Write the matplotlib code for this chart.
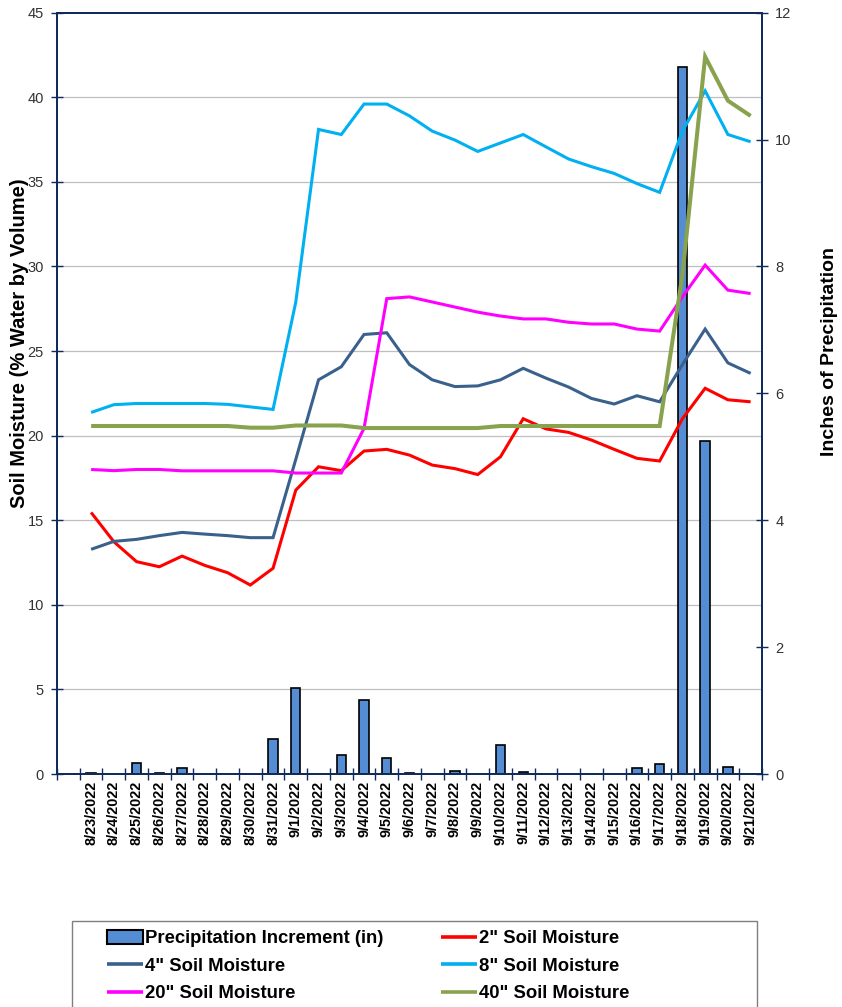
import numpy as np
import matplotlib
matplotlib.use("Agg")
import matplotlib.pyplot as plt
from matplotlib.lines import Line2D
from matplotlib.patches import Rectangle, Patch
from matplotlib.transforms import blended_transform_factory

# ---------------- data ----------------
dates = ["8/23/2022", "8/24/2022", "8/25/2022", "8/26/2022", "8/27/2022", "8/28/2022",
         "8/29/2022", "8/30/2022", "8/31/2022", "9/1/2022", "9/2/2022", "9/3/2022",
         "9/4/2022", "9/5/2022", "9/6/2022", "9/7/2022", "9/8/2022", "9/9/2022",
         "9/10/2022", "9/11/2022", "9/12/2022", "9/13/2022", "9/14/2022", "9/15/2022",
         "9/16/2022", "9/17/2022", "9/18/2022", "9/19/2022", "9/20/2022", "9/21/2022"]

precip_in = [0.01, 0.0, 0.17, 0.01, 0.10, 0.0, 0.0, 0.0, 0.55, 1.35,
             0.0, 0.30, 1.17, 0.26, 0.01, 0.0, 0.04, 0.0, 0.46, 0.03,
             0.0, 0.0, 0.0, 0.0, 0.10, 0.15, 11.14, 5.25, 0.11, 0.0]

soil_2in = [15.46, 13.73, 12.55, 12.25, 12.88, 12.33, 11.90, 11.17, 12.16, 16.78,
            18.16, 17.93, 19.09, 19.19, 18.85, 18.26, 18.05, 17.70, 18.75, 21.00,
            20.40, 20.19, 19.74, 19.19, 18.66, 18.50, 21.00, 22.80, 22.12, 22.00]

soil_4in = [13.28, 13.75, 13.87, 14.09, 14.28, 14.18, 14.09, 13.97, 13.97, 18.60,
            23.30, 24.07, 25.98, 26.08, 24.20, 23.30, 22.90, 22.94, 23.30, 23.98,
            23.40, 22.87, 22.20, 21.87, 22.36, 22.00, 24.20, 26.30, 24.30, 23.68]

soil_8in = [21.37, 21.83, 21.90, 21.90, 21.90, 21.90, 21.85, 21.70, 21.55, 27.90,
            38.10, 37.80, 39.60, 39.60, 38.90, 38.00, 37.47, 36.80, 37.30, 37.80,
            37.07, 36.35, 35.90, 35.50, 34.90, 34.38, 38.00, 40.38, 37.80, 37.37]

soil_20in = [18.00, 17.93, 18.00, 18.00, 17.92, 17.92, 17.92, 17.92, 17.92, 17.79,
             17.79, 17.79, 20.43, 28.10, 28.20, 27.90, 27.60, 27.30, 27.07, 26.90,
             26.90, 26.70, 26.60, 26.60, 26.30, 26.18, 28.20, 30.08, 28.60, 28.40]

soil_40in = [20.57, 20.57, 20.57, 20.57, 20.57, 20.57, 20.57, 20.47, 20.47, 20.60,
             20.60, 20.60, 20.45, 20.45, 20.45, 20.45, 20.45, 20.45, 20.57, 20.57,
             20.57, 20.57, 20.57, 20.57, 20.57, 20.57, 29.50, 42.40, 39.80, 38.90]

soil_ticks = [0, 5, 10, 15, 20, 25, 30, 35, 40, 45]
precip_ticks = [0, 2, 4, 6, 8, 10, 12]

series = [
    ('2" Soil Moisture', soil_2in, "#FF0000", 2.2),
    ('4" Soil Moisture', soil_4in, "#3A608C", 2.2),
    ('8" Soil Moisture', soil_8in, "#00B0F0", 2.2),
    ('20" Soil Moisture', soil_20in, "#FF00FF", 2.2),
    ('40" Soil Moisture', soil_40in, "#88A24E", 2.9),
]

# ---------------- style ----------------
plt.rcParams["font.family"] = ["Liberation Sans", "DejaVu Sans"]
navy = "#102A5C"
tick_col = "#333333"

fig = plt.figure(figsize=(8.42, 10.07), dpi=100)
ax = fig.add_axes([57 / 842, 1 - 774 / 1007, 705 / 842, (774 - 12.7) / 1007])
ax2 = ax.twinx()

# lines axis above bars axis
ax.set_zorder(ax2.get_zorder() + 1)
ax.patch.set_visible(False)

# Excel category axis reserves an empty leading category
x = np.arange(1, len(dates) + 1)

ax2.bar(x, precip_in, width=0.41, color="#548DD4", edgecolor="black",
        linewidth=1.2, zorder=2)

lines = {}
for name, vals, col, lw in series:
    ln, = ax.plot(x, vals, color=col, lw=lw, label=name, solid_joinstyle="miter",
                  solid_capstyle="butt")
    lines[name] = ln

ax.set_xlim(-0.5, len(dates) + 0.5)
ax.set_ylim(soil_ticks[0], soil_ticks[-1])
ax2.set_ylim(precip_ticks[0], precip_ticks[-1])

# gridlines (behind bars) at left-axis ticks
trans = blended_transform_factory(ax2.transAxes, ax.transData)
for g in soil_ticks[1:-1]:
    ax2.add_line(Line2D([0, 1], [g, g], transform=trans, color="#BFBFBF", lw=0.9, zorder=0.5))

# x ticks: boundaries major, labels at centers minor
ax.set_xticks(np.arange(-0.5, len(dates) + 1, 1))
ax.set_xticklabels([])
ax.set_xticks(x, minor=True)
ax.set_xticklabels(dates, minor=True, rotation=90, fontsize=10.4, fontweight="bold",
                   color="black")
ax.tick_params(axis="x", which="major", direction="inout", length=9, width=1, color=navy)
ax.tick_params(axis="x", which="minor", length=0, pad=5)
for lab in ax.get_xticklabels(minor=True):
    lab.set_verticalalignment("top")

ax.set_yticks(soil_ticks)
ax.tick_params(axis="y", direction="inout", length=9, width=1, color=navy,
               labelsize=10.5, labelcolor=tick_col, pad=5)
ax2.set_yticks(precip_ticks)
ax2.tick_params(axis="y", direction="inout", length=9, width=1, color=navy,
                labelsize=10.5, labelcolor=tick_col, pad=5)

for a in (ax, ax2):
    for sp in a.spines.values():
        sp.set_color(navy)
        sp.set_linewidth(1.3)

ax.set_ylabel("Soil Moisture (% Water by Volume)", fontsize=14.5, fontweight="bold")
ax.yaxis.set_label_coords((29 - 57) / 705, (774 - 343) / 761.3)
ax2.set_ylabel("Inches of Precipitation", fontsize=14, fontweight="bold", rotation=90)
ax2.yaxis.set_label_coords((821 - 57) / 705, (774 - 351) / 761.3)

# legend frame
fig.patches.append(Rectangle((72 / 842, -0.02), (757 - 72) / 842, 0.02 + (1007 - 921) / 1007,
                             transform=fig.transFigure, fill=False, edgecolor="#7F7F7F",
                             lw=1.0))

bar_handle = Patch(facecolor="#548DD4", edgecolor="black", linewidth=1.5)
handles = [bar_handle, lines['4" Soil Moisture'], lines['20" Soil Moisture'],
           lines['2" Soil Moisture'], lines['8" Soil Moisture'], lines['40" Soil Moisture']]
labels = ["Precipitation Increment (in)", '4" Soil Moisture', '20" Soil Moisture',
          '2" Soil Moisture', '8" Soil Moisture', '40" Soil Moisture']
leg = fig.legend(handles, labels, ncol=2, loc="upper left",
                 bbox_to_anchor=(107 / 842, 1 - 930 / 1007), frameon=False,
                 prop={"weight": "bold", "size": 13.3},
                 handlelength=1.95, handletextpad=0.12, columnspacing=3.1,
                 labelspacing=0.56, borderpad=0, borderaxespad=0, handleheight=0.75)
for h in leg.legend_handles:
    if isinstance(h, Line2D):
        h.set_linewidth(2.6)

fig.savefig("out.png", dpi=100)
